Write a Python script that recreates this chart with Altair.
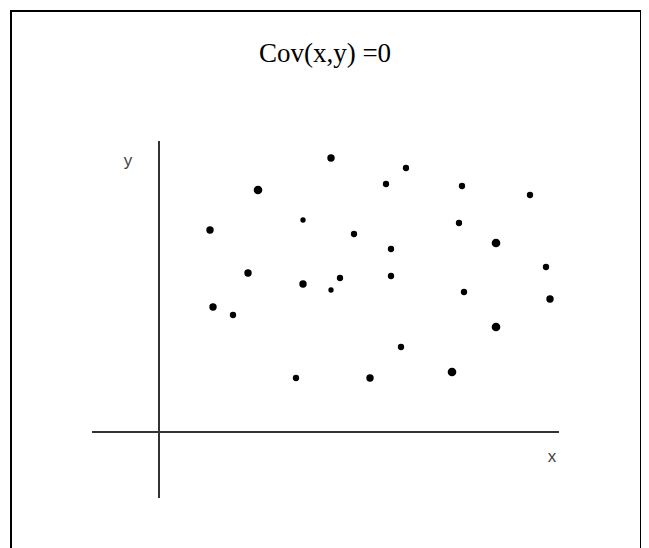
import altair as alt
import pandas as pd

# Scatter points (x, y in axis units; origin at axis crossing)
pt_x = [17.2, 9.9, 14.4, 5.1, 19.5, 8.9, 14.4, 18.1, 17.2, 24.7, 22.7, 30.3, 37.1,
        30.0, 33.7, 23.2, 38.7, 23.2, 30.5, 39.1, 5.4, 7.4, 33.7, 24.2, 29.3, 13.7, 21.1]
pt_y = [27.4, 24.2, 21.2, 20.2, 19.8, 15.9, 14.8, 15.4, 14.2, 26.4, 24.8, 24.6, 23.7,
        20.9, 18.9, 18.3, 16.5, 15.6, 14.0, 13.3, 12.5, 11.7, 10.5, 8.5, 6.0, 5.4, 5.4]
pt_size = [55, 75, 28, 55, 40, 55, 55, 40, 28, 40, 40, 40, 40,
           40, 75, 40, 40, 40, 40, 55, 55, 40, 75, 40, 75, 40, 55]

title_text = "Cov(x,y) =0"
x_label = "x"
y_label = "y"

# axis line extents (axis units)
xaxis_from, xaxis_to = -6.7, 40.0
yaxis_from, yaxis_to = -6.6, 29.1

W, H = 633, 540
xdom = [(8 - 159) / 10, (8 + W - 159) / 10]
ydom = [(432 - (8 + H)) / 10, (432 - 8) / 10]

xs = alt.Scale(domain=xdom, nice=False, zero=False)
ys = alt.Scale(domain=ydom, nice=False, zero=False)

pts = pd.DataFrame({"x": pt_x, "y": pt_y, "s": pt_size})

points = alt.Chart(pts).mark_circle(color="black", opacity=1).encode(
    x=alt.X("x:Q", scale=xs, axis=None),
    y=alt.Y("y:Q", scale=ys, axis=None),
    size=alt.Size("s:Q", scale=None, legend=None),
)

xaxis = alt.Chart(pd.DataFrame({"x": [xaxis_from], "x2": [xaxis_to], "y": [0]})).mark_rule(
    color="#333333", strokeWidth=2
).encode(x=alt.X("x:Q", scale=xs, axis=None), x2="x2:Q", y=alt.Y("y:Q", scale=ys, axis=None))

yaxis = alt.Chart(pd.DataFrame({"x": [0], "y": [yaxis_from], "y2": [yaxis_to]})).mark_rule(
    color="#333333", strokeWidth=2
).encode(x=alt.X("x:Q", scale=xs, axis=None), y=alt.Y("y:Q", scale=ys, axis=None), y2="y2:Q")

labels = alt.Chart(pd.DataFrame({"x": [39.3, -3.1], "y": [-2.5, 27.1], "t": [x_label, y_label]})).mark_text(
    font="Liberation Sans", fontSize=17, color="#444444", align="center", baseline="middle"
).encode(x=alt.X("x:Q", scale=xs, axis=None), y=alt.Y("y:Q", scale=ys, axis=None), text="t:N")

title = alt.Chart(pd.DataFrame({"x": [16.6], "y": [37.8], "t": [title_text]})).mark_text(
    font="Liberation Serif", fontSize=27, color="black", align="center", baseline="middle"
).encode(x=alt.X("x:Q", scale=xs, axis=None), y=alt.Y("y:Q", scale=ys, axis=None), text="t:N")

frame_top = alt.Chart(pd.DataFrame({"a": [0]})).mark_rule(color="black", strokeWidth=2).encode(
    x=alt.value(2), x2=alt.value(W), y=alt.value(3))
frame_left = alt.Chart(pd.DataFrame({"a": [0]})).mark_rule(color="black", strokeWidth=2).encode(
    x=alt.value(3), y=alt.value(2), y2=alt.value(H))
frame_right = alt.Chart(pd.DataFrame({"a": [0]})).mark_rule(color="black", strokeWidth=2).encode(
    x=alt.value(W), y=alt.value(2), y2=alt.value(H))

chart = alt.layer(frame_top, frame_left, frame_right, xaxis, yaxis, points, labels, title).properties(
    width=W, height=H, padding=0, autosize="none"
).configure_view(stroke=None)

chart.save("out.html", embed_options={"renderer": "svg", "actions": False})
